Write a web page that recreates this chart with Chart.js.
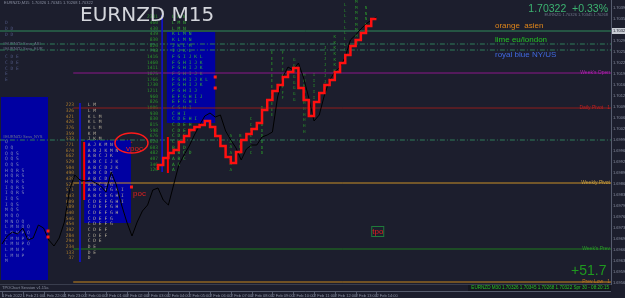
<!DOCTYPE html>
<html>
<head>
<meta charset="utf-8">
<script src="https://cdn.jsdelivr.net/npm/chart.js@4.4.1/dist/chart.umd.min.js"></script>
<style>
  html, body { margin: 0; padding: 0; background: #1c1e2d; overflow: hidden; }
  canvas { display: block; }
</style>
</head>
<body>
<canvas id="chart" width="625" height="298"></canvas>
<script>
// x axis = M15 bar index, bar 0 is 1 Feb 20:00
const timeTickBars = [0, 4, 8, 12, 16, 20, 24, 28, 32, 36, 40, 44, 48, 52, 56, 60, 64, 68, 72];
const timeLabels = ['1 Feb 2022', '1 Feb 21:00', '1 Feb 22:00', '1 Feb 23:00', '2 Feb 00:00', '2 Feb 01:00',
  '2 Feb 02:00', '2 Feb 03:00', '2 Feb 04:00', '2 Feb 05:00', '2 Feb 06:00', '2 Feb 07:00', '2 Feb 08:00',
  '2 Feb 09:00', '2 Feb 10:00', '2 Feb 11:00', '2 Feb 12:00', '2 Feb 13:00', '2 Feb 14:00'];
const priceTicks = [1.70391, 1.70358, 1.70325, 1.70292, 1.70259, 1.70226, 1.70193, 1.70160, 1.70127, 1.70094,
  1.70061, 1.70028, 1.69995, 1.69962, 1.69929, 1.69896, 1.69863, 1.69830, 1.69797, 1.69764, 1.69731,
  1.69698, 1.69665, 1.69632, 1.69599, 1.69566];

// black close line, one value per bar
const closes = [1.69683, 1.69707, 1.69719, 1.69713, 1.69731, 1.69695, 1.69701, 1.69740, 1.69731, 1.69695,
  1.69677, 1.69701, 1.69749, 1.69845, 1.69890, 1.69875, 1.69872, 1.69875, 1.69866, 1.69857,
  1.69839, 1.69899, 1.69860, 1.69800, 1.69749, 1.69707, 1.69749, 1.69782, 1.69800, 1.69845,
  1.69851, 1.69815, 1.69800, 1.69860, 1.69920, 1.69950, 1.69977, 1.70010, 1.70040, 1.70067,
  1.70076, 1.70064, 1.70070, 1.70022, 1.69995, 1.69971, 1.69935, 1.69968, 1.69980, 1.69980,
  1.70004, 1.70010, 1.70019, 1.70124, 1.70184, 1.70214, 1.70205, 1.70226, 1.70181, 1.70121,
  1.70052, 1.70070, 1.70130, 1.70175, 1.70199, 1.70214, 1.70244, 1.70295, 1.70310, 1.70328,
  1.70343, 1.70355, 1.70364];

// red stepped line, starts at bar 30
const redStart = 30;
const redSteps = [1.69905, 1.69920, 1.69941, 1.69956, 1.69965, 1.69989, 1.70007, 1.70025, 1.70034, 1.70040,
  1.70052, 1.70034, 1.70007, 1.69977, 1.69944, 1.69926, 1.69959, 1.69995, 1.70013, 1.70028,
  1.70046, 1.70085, 1.70115, 1.70142, 1.70160, 1.70184, 1.70199, 1.70211, 1.70151, 1.70115,
  1.70067, 1.70109, 1.70136, 1.70160, 1.70175, 1.70199, 1.70226, 1.70250, 1.70277, 1.70295,
  1.70316, 1.70337, 1.70358];

// horizontal levels
const levelPrices = [1.70322, 1.70283, 1.70265, 1.70196, 1.70091, 1.69995, 1.69866, 1.69668, 1.69569];
const levelFrom = [-0.4, -0.4, -0.4, 13.7, 13.7, -0.4, 13.7, 13.7, 13.7];
const levelLabels = ['', '', '', "Week's Open", 'Daily Pivot   1', '', 'Weekly Pivot', "Week's Prev", 'Prev Low   1'];

// session boxes
const boxFrom = [-0.2, 15.8, 31.7];
const boxTo = [8.85, 24.8, 41.0];
const boxHigh = [1.70124, 1.69995, 1.70319];
const boxLow = [1.69575, 1.69746, 1.70046];

// vertical session lines
const vlineBars = [30.8, 15.0, 15.8, 31.9];
const vlineHigh = [1.70370, 1.70106, 1.69989, 1.70004];
const vlineLow = [1.69899, 1.69629, 1.69815, 1.69896];

// tpo profiles
const tpoStep = 0.00017;
const leftRows = ['Q', 'Q Q', 'Q Q S', 'Q Q S', 'Q Q S', 'H Q R S', 'H Q R S', 'H Q R S', 'I Q R S', 'I Q R S',
  'I Q S', 'I Q S', 'M Q S', 'M Q Q', 'M N Q Q', 'L M N Q Q', 'L M N P Q', 'L M N P Q', 'L M N P Q',
  'L M N P', 'L M N P', 'M'];
const cornerRows = ['D', 'D D', 'D D', '', '', '', 'C D E', 'C D E', 'C D E', 'E', 'E'];
const midRows = ['L M', 'L M', 'K L M', 'K L M', 'K L M', 'K M', 'J K M', 'A J K M N', 'A B J K M N', 'A B C J K',
  'A B C I J K', 'A B C D J K', 'A B C D K', 'A B C D G', 'A B C D G', 'A B C E G H I', 'A B C E G H I',
  'C D E F G H I', 'C D E F G H', 'C D E F G H', 'C D E F G', 'C D E F G', 'C D E F', 'C D E F', 'C D E',
  'D E', 'D E', 'D'];
const midCounts = ['223', '326', '421', '426', '376', '359', '533', '771', '674', '662', '529', '504', '490', '439',
  '526', '571', '643', '609', '589', '640', '546', '454', '392', '284', '294', '234', '133', '37'];
const topRows = ['L M N', 'L M N', 'L M N', 'K L M N', 'K L M N', 'J K L M', 'I J K L', 'F G I J K L', 'F G H I J K',
  'F G H I J K', 'F G H I J K', 'F G H I J K L', 'F G H I J K', 'F G H I J', 'E F G H I J', 'E F G H I',
  'C G H I', 'C H I', 'C D E H I', 'C D E H', 'C D E H', 'C D E', 'C D E', 'B C D', 'A B C D', 'A B C', 'A B', 'A'];
const topCounts = ['2331', '460', '430', '439', '830', '826', '798', '1416', '1460', '1411', '1075', '1766', '1730',
  '1211', '960', '826', '1006', '930', '830', '815', '598', '676', '620', '603', '482', '407', '346', '120'];

// developing tpo columns of the day
const colBars = [44.0, 45.8, 47.9, 50.0, 51.9, 54.0, 56.2, 58.1, 60.0, 62.1, 64.0, 66.0, 68.1, 70.0];
const colHigh = [1.70007, 1.70007, 1.70058, 1.70091, 1.70256, 1.70256, 1.70235, 1.70190, 1.70190, 1.70271,
  1.70304, 1.70400, 1.70409, 1.70391];
const colLow = [1.69905, 1.69941, 1.69950, 1.69950, 1.70055, 1.70115, 1.70115, 1.70019, 1.70055, 1.70130,
  1.70199, 1.70235, 1.70280, 1.70325];
const colLetters = ['A', 'B', 'C', 'D', 'E', 'F', 'G', 'H', 'I', 'J', 'K', 'L', 'M', 'N'];

// red markers
const dotBars = [8.85, 8.85, 24.9, 41.0, 41.0];
const dotPrices = [1.69722, 1.69704, 1.69854, 1.70184, 1.70151];
const vpocBar = 24.9, vpocPrice = 1.69986;
const pocBar = 25.2, pocPrice = 1.69835;
const tpoBar = 71.0, tpoPrice = 1.69722;

const levelColors = ['#2e8b5a', '#2e7d5a', '#2e7d5a', '#8b178b', '#8f1c1c', '#2e7d5a', '#c99028', '#1f7a1f', '#c8861c'];
const levelDash = [[], [5, 2, 1, 2], [5, 2, 1, 2], [], [], [5, 2, 1, 2], [], [], []];
const levelText = ['', '', '', '#b020b0', '#c02020', '', '#c9a040', '#2a9a2a', '#c07820'];
const vlineColors = ['#1414c8', '#1414c8', '#ff0000', '#ff0000'];

const X_MIN = -0.38, X_MAX = 117.1;

const datasets = [];
datasets.push({ data: redSteps.map((p, k) => ({ x: redStart + k, y: p })), borderColor: '#ff1010', borderWidth: 2.5, stepped: 'after' });
datasets.push({ data: closes.map((p, k) => ({ x: k, y: p })), borderColor: '#000000', borderWidth: 1 });
vlineBars.forEach((b, i) => {
  datasets.push({ data: [{ x: b, y: vlineHigh[i] }, { x: b, y: vlineLow[i] }], borderColor: vlineColors[i], borderWidth: i < 2 ? 1 : 2 });
});
levelPrices.forEach((p, i) => {
  datasets.push({ data: [{ x: levelFrom[i], y: p }, { x: X_MAX, y: p }], borderColor: levelColors[i], borderWidth: 1, borderDash: levelDash[i] });
});

const MONO = '"DejaVu Sans Mono", monospace';
const SANS = '"Liberation Sans", Arial, sans-serif';

function rows(ctx, ys, xPix, top, list, color, align) {
  ctx.fillStyle = color;
  ctx.textAlign = align;
  list.forEach((r, k) => ctx.fillText(r, xPix, ys.getPixelForValue(top - k * tpoStep)));
}

const overlay = {
  id: 'overlay',
  beforeDraw(chart) {
    const { ctx, width, height } = chart;
    ctx.save();
    ctx.fillStyle = '#1c1e2d';
    ctx.fillRect(0, 0, width, height);
    ctx.restore();
  },
  beforeDatasetsDraw(chart) {
    const { ctx, chartArea: a, scales: { x, y } } = chart;
    ctx.save();
    ctx.beginPath();
    ctx.rect(a.left, a.top, a.width, a.height);
    ctx.clip();
    ctx.fillStyle = '#0000a2';
    boxFrom.forEach((b, i) => {
      const x0 = x.getPixelForValue(b), x1 = x.getPixelForValue(boxTo[i]);
      const y0 = y.getPixelForValue(boxHigh[i]), y1 = y.getPixelForValue(boxLow[i]);
      ctx.fillRect(x0, y0, x1 - x0, y1 - y0);
    });
    ctx.font = '4.6px ' + MONO;
    ctx.textBaseline = 'middle';
    rows(ctx, y, x.getPixelForValue(0.58), 1.69989, leftRows, '#7d86bc', 'left');
    rows(ctx, y, x.getPixelForValue(0.58), 1.70346, cornerRows, '#4f5780', 'left');
    rows(ctx, y, x.getPixelForValue(13.85), 1.70100, midCounts, '#a87a2c', 'right');
    rows(ctx, y, x.getPixelForValue(16.5), 1.70100, midRows, '#b4ac98', 'left');
    rows(ctx, y, x.getPixelForValue(30.0), 1.70364, topCounts, '#2a922a', 'right');
    rows(ctx, y, x.getPixelForValue(32.7), 1.70364, topRows, '#34b034', 'left');
    ctx.font = '4.2px ' + MONO;
    ctx.fillStyle = '#2a982a';
    ctx.textAlign = 'center';
    colBars.forEach((b, i) => {
      const xp = x.getPixelForValue(b);
      for (let p = colHigh[i]; p >= colLow[i] - 1e-7; p -= tpoStep) {
        ctx.fillText(colLetters[i], xp, y.getPixelForValue(p));
      }
    });
    // small session labels
    ctx.font = '4px ' + SANS;
    ctx.textAlign = 'left';
    ctx.fillStyle = '#6e748c';
    ctx.fillText('#EURNZD Sess_ASI', 3, 44);
    ctx.fillText('#EURNZD Sess_EUR', 3, 48.5);
    ctx.fillText('#EURNZD Sess_NYS', 3, 137);
    ctx.restore();
  },
  afterDatasetsDraw(chart) {
    const { ctx, chartArea: a, scales: { x, y } } = chart;
    ctx.save();
    // level labels
    ctx.font = '5px ' + SANS;
    ctx.textAlign = 'right';
    ctx.textBaseline = 'middle';
    levelLabels.forEach((t, i) => {
      if (!t) return;
      ctx.fillStyle = levelText[i];
      ctx.fillText(t, a.right - 1, y.getPixelForValue(levelPrices[i]));
    });
    // red markers
    ctx.fillStyle = '#ff1a1a';
    dotBars.forEach((b, i) => {
      ctx.fillRect(x.getPixelForValue(b) - 1.5, y.getPixelForValue(dotPrices[i]) - 1.5, 3, 3);
    });
    const vx = x.getPixelForValue(vpocBar), vy = y.getPixelForValue(vpocPrice);
    ctx.strokeStyle = '#ff1a1a';
    ctx.lineWidth = 1.5;
    ctx.beginPath();
    ctx.ellipse(vx, vy, 16.5, 10, 0, 0, Math.PI * 2);
    ctx.stroke();
    ctx.font = '4px ' + SANS;
    ctx.textAlign = 'center';
    ctx.fillText('+', vx, vy - 1);
    ctx.font = '8px ' + SANS;
    ctx.fillStyle = '#e02020';
    ctx.fillText('vpoc', vx + 3, vy + 6);
    ctx.textAlign = 'left';
    ctx.fillText('poc', x.getPixelForValue(pocBar), y.getPixelForValue(pocPrice));
    const tx = x.getPixelForValue(tpoBar), ty = y.getPixelForValue(tpoPrice);
    ctx.strokeStyle = '#1f7a3a';
    ctx.lineWidth = 1;
    ctx.strokeRect(tx + 0.5, ty - 4.5, 12, 10);
    ctx.fillText('tpo', tx + 1, ty + 0.5);
    ctx.restore();
  },
  afterDraw(chart) {
    const { ctx, chartArea: a, scales: { x } } = chart;
    ctx.save();
    // status strip
    ctx.fillStyle = '#1c1e2d';
    ctx.fillRect(0, a.bottom + 0.5, a.right, 7);
    ctx.strokeStyle = '#565c6e';
    ctx.lineWidth = 1;
    ctx.beginPath();
    ctx.moveTo(0, a.bottom + 7.5); ctx.lineTo(a.right, a.bottom + 7.5);
    ctx.stroke();
    ctx.beginPath();
    timeTickBars.forEach(b => {
      const xp = Math.round(x.getPixelForValue(b)) + 0.5;
      ctx.moveTo(xp, a.bottom + 8); ctx.lineTo(xp, a.bottom + 13);
    });
    ctx.stroke();
    ctx.font = '4px ' + SANS;
    ctx.textBaseline = 'middle';
    ctx.textAlign = 'left';
    ctx.fillStyle = '#8a90a2';
    ctx.fillText('TPOChart Session v1.15a', 2, a.bottom + 4);
    ctx.fillText('EURNZD,M15  1.70326 1.70345 1.70268 1.70322', 4, 3);
    ctx.fillStyle = '#14161f';
    ctx.fillRect(468, a.bottom + 1, a.right - 468, 6);
    ctx.font = '4.6px ' + SANS;
    ctx.textAlign = 'right';
    ctx.fillStyle = '#28c028';
    ctx.fillText('EURNZD M30 1.70326 1.70345 1.70268 1.70322 Spr 30 - 08:20:15', a.right - 2, a.bottom + 4);
    // current price tag on the axis
    const cy = chart.scales.y.getPixelForValue(levelPrices[0]);
    ctx.fillStyle = '#c8ccd4';
    ctx.fillRect(a.right + 1, cy - 3, 14, 6);
    ctx.fillStyle = '#1c1e2d';
    ctx.font = '4px ' + SANS;
    ctx.textAlign = 'left';
    ctx.fillText('1.70322', a.right + 2, cy);
    // corner texts
    ctx.textBaseline = 'alphabetic';
    ctx.fillStyle = '#d4d6dc';
    ctx.font = '20px "DejaVu Sans"';
    ctx.fillText('EURNZD M15', 80, 21);
    ctx.font = '10.5px ' + SANS;
    ctx.fillStyle = '#3cb371';
    ctx.textAlign = 'right';
    ctx.fillText('1.70322  +0.33%', 608, 12);
    ctx.font = '4px ' + SANS;
    ctx.fillStyle = '#6e7488';
    ctx.fillText('EURNZD 1.70326 1.70345 1.70268', 608, 16);
    ctx.textAlign = 'left';
    ctx.font = '8px ' + SANS;
    ctx.fillStyle = '#e0861a';
    ctx.fillText('orange  asien', 495, 28);
    ctx.fillStyle = '#22c422';
    ctx.fillText('lime eu/london', 495, 42);
    ctx.fillStyle = '#4169e1';
    ctx.fillText('royal blue NY/US', 495, 57);
    ctx.font = '14px ' + SANS;
    ctx.fillStyle = '#1f9a1f';
    ctx.fillText('+51.7', 571, 275);
    ctx.restore();
  }
};

new Chart(document.getElementById('chart'), {
  type: 'line',
  data: { datasets },
  options: {
    responsive: false,
    animation: false,
    devicePixelRatio: 1,
    layout: { padding: 0 },
    elements: { point: { radius: 0 }, line: { tension: 0, fill: false } },
    plugins: { legend: { display: false }, tooltip: { enabled: false } },
    scales: {
      x: {
        type: 'linear', min: X_MIN, max: X_MAX, position: 'bottom',
        grid: { display: false, drawTicks: false },
        border: { color: '#565c6e' },
        ticks: {
          autoSkip: false, maxRotation: 0, align: 'start', padding: 9,
          color: '#8a90a2', font: { size: 4, family: SANS },
          callback: (v, i) => timeLabels[i]
        },
        afterBuildTicks: s => { s.ticks = timeTickBars.map(v => ({ value: v })); },
        afterFit: s => { s.height = 14; s.paddingLeft = 0; s.paddingRight = 0; }
      },
      y: {
        type: 'linear', min: 1.69563, max: 1.70415, position: 'right',
        grid: { display: false, drawTicks: false },
        border: { color: '#565c6e' },
        ticks: {
          autoSkip: false, padding: 2, color: '#8a90a2', font: { size: 4, family: SANS },
          callback: v => v.toFixed(5)
        },
        afterBuildTicks: s => { s.ticks = priceTicks.map(v => ({ value: v })); },
        afterFit: s => { s.width = 14; s.paddingTop = 0; s.paddingBottom = 0; }
      }
    }
  },
  plugins: [overlay]
});
</script>
</body>
</html>
